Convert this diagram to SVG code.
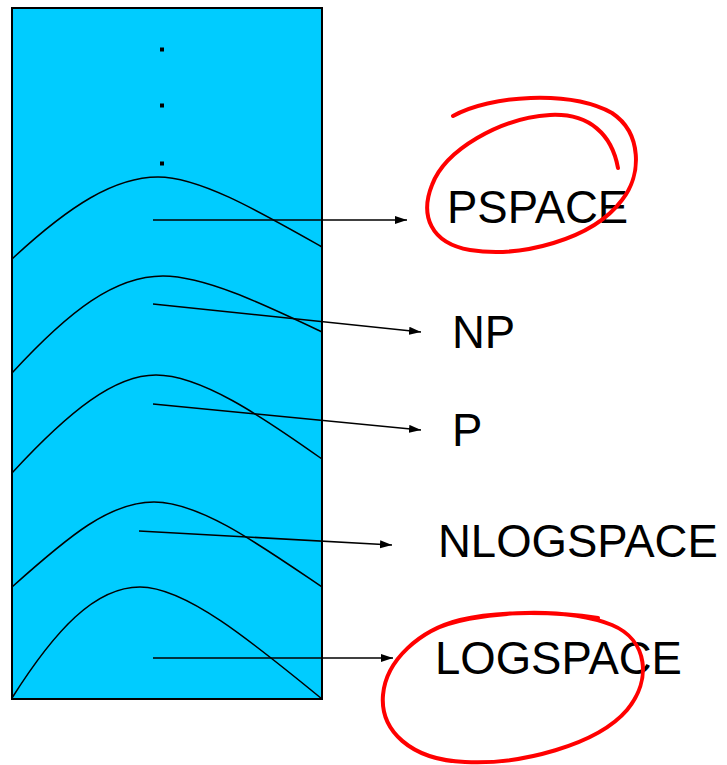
<svg xmlns="http://www.w3.org/2000/svg" width="727" height="765" viewBox="0 0 727 765">
  <style>
    .box { fill: #00ccff; stroke: #000; stroke-width: 2; }
    .boundary { fill: none; stroke: #000; stroke-width: 1.5; }
    .link { fill: none; stroke: #000; stroke-width: 1.6; marker-end: url(#head); }
    .label { font-family: "Liberation Sans", Arial, Helvetica, sans-serif; font-size: 45.5px; fill: #000; }
    .mark { fill: none; stroke: #ff0000; stroke-width: 4; stroke-linecap: round; stroke-linejoin: round; }
  </style>
  <defs>
    <marker id="head" markerUnits="userSpaceOnUse" markerWidth="13" markerHeight="9" refX="12" refY="4" orient="auto">
      <path d="M0,0 L12,4 L0,8 Z" fill="#000"/>
    </marker>
  </defs>

  <rect width="727" height="765" fill="#fff"/>

  <!-- hierarchy column -->
  <g id="column">
    <rect class="box" x="12" y="8" width="310" height="691"/>
    <rect x="160" y="47.5" width="4" height="4" fill="#000"/>
    <rect x="160" y="103.5" width="4" height="4" fill="#000"/>
    <rect x="160" y="161.5" width="4" height="4" fill="#000"/>
  </g>

  <!-- class boundaries, outermost first -->
  <g id="pspace-region">
    <path class="boundary" d="M12,259 C70,205 115,177 158,177 C200,177 260,212 322,247"/>
  </g>
  <g id="np-region">
    <path class="boundary" d="M12,373 C70,310 115,276 163,276 C205,276 265,305 322,332"/>
  </g>
  <g id="p-region">
    <path class="boundary" d="M12,473 C70,410 115,375 156,375 C200,375 260,415 322,459"/>
  </g>
  <g id="nlogspace-region">
    <path class="boundary" d="M12,587 C70,535 110,502 154,502 C200,502 260,545 322,587"/>
  </g>
  <g id="logspace-region">
    <path class="boundary" d="M12,698 C55,630 95,587 140,587 C185,587 250,640 322,699"/>
  </g>

  <!-- connectors -->
  <g id="connectors">
    <line class="link" x1="153" y1="220" x2="407" y2="220"/>
    <line class="link" x1="153" y1="304" x2="421" y2="332"/>
    <line class="link" x1="153" y1="404" x2="421" y2="430"/>
    <line class="link" x1="139" y1="531" x2="392" y2="545"/>
    <line class="link" x1="153" y1="658" x2="393" y2="658"/>
  </g>

  <!-- labels -->
  <g id="pspace"><text class="label" x="447" y="223">PSPACE</text></g>
  <g id="np"><text class="label" x="452" y="348">NP</text></g>
  <g id="p"><text class="label" x="452" y="446">P</text></g>
  <g id="nlogspace"><text class="label" x="438" y="557">NLOGSPACE</text></g>
  <g id="logspace"><text class="label" x="435" y="674">LOGSPACE</text></g>

  <!-- hand-drawn highlights -->
  <g id="highlights">
    <path class="mark" d="M453,116 C490,95 570,90 612,113 C642,133 642,175 622,200 C592,240 520,258 470,250 C430,243 420,215 432,185 C445,150 500,118 550,115 C590,113 612,135 618,168"/>
    <path class="mark" d="M433,630 C470,612 560,605 612,625 C648,640 652,680 627,710 C597,745 520,765 465,762 C410,760 380,730 383,695 C386,660 420,630 460,620 C500,610 560,612 598,618"/>
  </g>
</svg>
